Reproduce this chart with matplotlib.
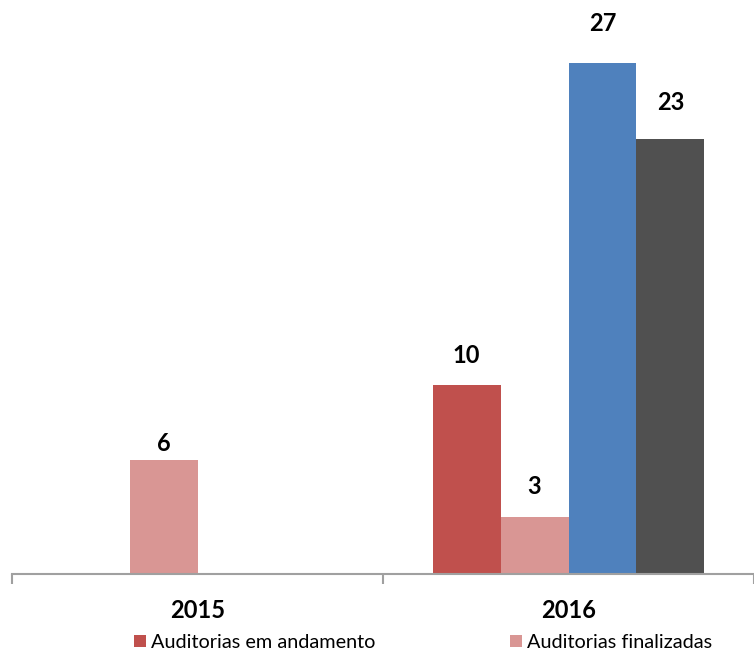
import matplotlib.pyplot as plt
import numpy as np

plt.rcParams['font.family'] = ['Lato', 'DejaVu Sans']

# dados
anos = ['2015', '2016']
em_andamento = [0, 10]
finalizadas = [6, 3]
serie3 = [0, 27]
serie4 = [0, 23]
nomes = ['Auditorias em andamento', 'Auditorias finalizadas']
cores = ['#C0504D', '#D99694', '#4F81BD', '#505050']

# distância (px) entre rótulo e topo da barra, como no original
deslocamentos = [[0, 22], [9, 23], [0, 32], [0, 29]]

fig = plt.figure(figsize=(7.54, 6.51), dpi=100)
ax = fig.add_axes([12 / 754, 77 / 651, 742 / 754, 574 / 651])

x = np.arange(len(anos))
w = 0.183
series = [em_andamento, finalizadas, serie3, serie4]
barras = []
for i, (vals, cor) in enumerate(zip(series, cores)):
    b = ax.bar(x + (i - 1.5) * w, vals, w, color=cor, linewidth=0)
    barras.append(b)
    for j, (xi, v) in enumerate(zip(x, vals)):
        if v > 0:
            ax.annotate(str(v), (xi + (i - 1.5) * w, v), xytext=(0, deslocamentos[i][j] - 4),
                        textcoords='offset pixels', ha='center', va='bottom',
                        fontsize=17, fontweight='bold')

ax.set_xlim(-0.5, 1.5)
ax.set_ylim(0, 30.32)
ax.set_yticks([])
for s in ['top', 'right', 'left']:
    ax.spines[s].set_visible(False)
ax.spines['bottom'].set_color('#A0A0A0')
ax.spines['bottom'].set_linewidth(1.5)
ax.set_xticks([-0.5, 0.5, 1.5])
ax.set_xticklabels([])
ax.tick_params(axis='x', which='major', length=7, width=1.5, color='#A0A0A0', direction='out')
ax.set_xticks(x, minor=True)
ax.set_xticklabels(anos, minor=True, fontsize=17, fontweight='bold')
ax.tick_params(axis='x', which='minor', length=0, pad=18)

fig.legend([barras[0], barras[1]], nomes, loc='lower left',
           bbox_to_anchor=(134 / 754, 0.0), ncol=2, frameon=False,
           fontsize=14.3, handlelength=0.6, handleheight=0.5, handletextpad=0.25,
           columnspacing=6.8, borderaxespad=0.0, borderpad=0.0)

fig.savefig('out.png', dpi=100)
